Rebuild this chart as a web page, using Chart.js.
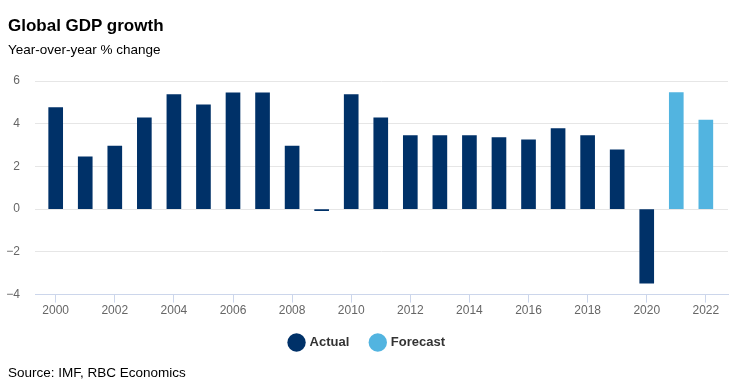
<!DOCTYPE html>
<html>
<head>
<meta charset="utf-8">
<script src="https://cdn.jsdelivr.net/npm/chart.js@4"></script>
<style>
    body { margin: 0; background: #fff; font-family: "Liberation Sans", Arial, sans-serif; }
    #wrap { position: relative; width: 750px; height: 390px; }
    #title { position: absolute; left: 8px; top: 16px; font-size: 17px; font-weight: bold; color: #000; }
    #subtitle { position: absolute; left: 8px; top: 42px; font-size: 13.5px; color: #000; }
    #source { position: absolute; left: 8px; top: 365px; font-size: 13.5px; color: #000; }
    canvas { position: absolute; left: 0; top: 0; }
</style>
</head>
<body>
<div id="wrap">
    <canvas id="gdpChart" width="750" height="390"></canvas>
    <div id="title">Global GDP growth</div>
    <div id="subtitle">Year-over-year % change</div>
    <div id="source">Source: IMF, RBC Economics</div>
</div>
<script>
const actualYears = [2000, 2001, 2002, 2003, 2004, 2005, 2006, 2007, 2008, 2009, 2010,
    2011, 2012, 2013, 2014, 2015, 2016, 2017, 2018, 2019, 2020];
const actualValues = [4.75, 2.45, 2.95, 4.27, 5.36, 4.88, 5.45, 5.45, 2.95, -0.07, 5.36,
    4.27, 3.45, 3.45, 3.45, 3.35, 3.25, 3.77, 3.45, 2.78, -3.47];
const forecastYears = [2021, 2022];
const forecastValues = [5.46, 4.17];
const yTicks = [-4, -2, 0, 2, 4, 6];

const actualColor = '#003168';
const forecastColor = '#52b4e0';

const actualData = actualYears.map(function (yr, i) { return { x: yr, y: actualValues[i] }; });
const forecastData = forecastYears.map(function (yr, i) { return { x: yr, y: forecastValues[i] }; });

const config = {
    type: 'bar',
    data: {
        datasets: [{
            label: 'Actual',
            data: actualData,
            backgroundColor: actualColor,
            borderColor: actualColor,
            borderWidth: 0,
            barThickness: 14,
            grouped: false
        }, {
            label: 'Forecast',
            data: forecastData,
            backgroundColor: forecastColor,
            borderColor: forecastColor,
            borderWidth: 0,
            barThickness: 14,
            grouped: false
        }]
    },
    options: {
        responsive: false,
        animation: false,
        layout: {
            padding: { top: 81, right: 22, bottom: 31, left: 7 }
        },
        scales: {
            x: {
                type: 'linear',
                min: 1999.3,
                max: 2022.75,
                offset: false,
                afterFit: function (axis) { axis.height -= 5; },
                grid: {
                    offset: false,
                    drawOnChartArea: false,
                    drawTicks: true,
                    tickLength: 8,
                    color: '#ccd6eb'
                },
                border: { color: '#ccd6eb' },
                ticks: {
                    stepSize: 2,
                    includeBounds: false,
                    color: '#666666',
                    padding: 1,
                    font: { family: '"Liberation Sans", Arial, sans-serif', size: 12 },
                    callback: function (value) { return String(value); }
                }
            },
            y: {
                min: -4,
                max: 6,
                afterFit: function (axis) { axis.width = 28; },
                afterBuildTicks: function (axis) {
                    axis.ticks = yTicks.map(function (v) { return { value: v }; });
                },
                grid: { color: '#e6e6e6', drawTicks: false },
                border: { display: false },
                ticks: {
                    color: '#666666',
                    padding: 15,
                    font: { family: '"Liberation Sans", Arial, sans-serif', size: 12 },
                    callback: function (value) { return value < 0 ? '\u2212' + Math.abs(value) : String(value); }
                }
            }
        },
        plugins: {
            legend: {
                position: 'bottom',
                labels: {
                    usePointStyle: true,
                    pointStyle: 'circle',
                    boxWidth: 13,
                    boxHeight: 13,
                    padding: 22,
                    color: '#333333',
                    font: { family: '"Liberation Sans", Arial, sans-serif', size: 13, weight: 'bold' }
                }
            },
            tooltip: { enabled: false }
        }
    }
};

const ctx = document.getElementById('gdpChart').getContext('2d');
new Chart(ctx, config);
</script>
</body>
</html>
